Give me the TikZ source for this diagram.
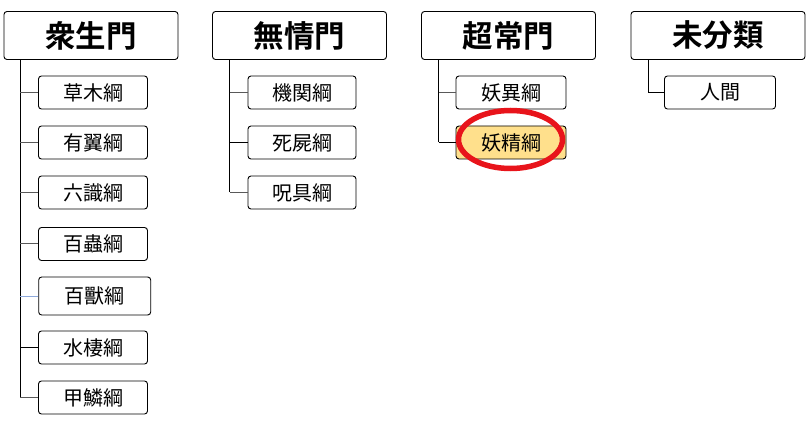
\documentclass[tikz,border=0pt]{standalone}
\usepackage{fontspec}
\usetikzlibrary{shapes.geometric}
\newfontfamily\cjk{Noto Sans CJK JP}
\newfontfamily\cjkbold{Noto Sans CJK JP Bold}
\definecolor{linegrey}{HTML}{595959}
\definecolor{lineblue}{HTML}{8EA9DB}
\definecolor{fairyfill}{HTML}{FFE08C}
\definecolor{circlered}{HTML}{E8141B}
\begin{document}
\begin{tikzpicture}[x=1pt,y=-1pt,
  topbox/.style={draw=black, line width=0.9pt, rounded corners=3pt, fill=white,
    minimum width=174pt, minimum height=48pt, inner sep=0pt,
    font=\cjkbold\fontsize{30.5}{33}\selectfont},
  childbox/.style={draw=black, line width=0.9pt, rounded corners=3pt, fill=white,
    minimum width=109pt, minimum height=33pt, inner sep=0pt,
    font=\cjk\fontsize{20}{22}\selectfont},
  conn/.style={line width=0.9pt, draw=black},
  connG/.style={line width=1pt, draw=linegrey},
  connB/.style={line width=0.9pt, draw=lineblue}]
\useasboundingbox (0,0) rectangle (806,422);

% column 1
\node[topbox] (p1) at (91,35.5) {衆生門};
\node[childbox] (a1) at (93,92.5) {草木綱};
\node[childbox] (a2) at (93,142.5) {有翼綱};
\node[childbox] (a3) at (93,192.5) {六識綱};
\node[childbox] (a4) at (93,244) {百蟲綱};
\node[childbox, minimum width=112pt, minimum height=38pt] (a5) at (94.7,296) {百獸綱};
\node[childbox] (a6) at (93,347.5) {水棲綱};
\node[childbox] (a7) at (93,397.5) {甲鱗綱};
\coordinate (t1) at ([xshift=16.7pt]p1.south west);
\draw[conn] (t1) -- (t1 |- a7.west);
\draw[connG] (t1 |- a1.west) -- (a1.west);
\draw[connG] (t1 |- a2.west) -- (a2.west);
\draw[connG] (t1 |- a3.west) -- (a3.west);
\draw[connG] (t1 |- a4.west) -- (a4.west);
\draw[connB] (t1 |- a5.west) -- (a5.west);
\draw[conn] (t1 |- a6.west) -- (a6.west);
\draw[connG] (t1 |- a7.west) -- (a7.west);

% column 2
\node[topbox] (p2) at (299.5,35.5) {無情門};
\node[childbox, minimum width=108pt] (b1) at (302,92.5) {機関綱};
\node[childbox, minimum width=108pt] (b2) at (302,142.5) {死屍綱};
\node[childbox, minimum width=108pt] (b3) at (302,192.5) {呪具綱};
\coordinate (t2) at ([xshift=17.5pt]p2.south west);
\draw[conn] (t2) -- (t2 |- b3.west);
\draw[connG] (t2 |- b1.west) -- (b1.west);
\draw[conn] (t2 |- b2.west) -- (b2.west);
\draw[connG] (t2 |- b3.west) -- (b3.west);

% column 3
\node[topbox] (p3) at (508.5,35.5) {超常門};
\node[childbox, minimum width=110pt] (c1) at (511,92.5) {妖異綱};
\node[childbox, minimum width=110pt, fill=fairyfill] (c2) at (511,142.5) {妖精綱};
\coordinate (t3) at ([xshift=17.5pt]p3.south west);
\draw[conn] (t3) -- (t3 |- c2.west);
\draw[connG] (t3 |- c1.west) -- (c1.west);
\draw[conn] (t3 |- c2.west) -- (c2.west);
\node[draw=circlered, line width=5.5pt, ellipse, minimum width=104pt, minimum height=58pt, inner sep=0pt] (ring) at (510.5,139.5) {};

% column 4
\node[topbox] (p4) at (718,35.5) {未分類};
\node[childbox, minimum width=111pt] (d1) at (720,92.5) {人間};
\coordinate (t4) at ([xshift=18pt]p4.south west);
\draw[conn] (t4) |- (d1.west);
\end{tikzpicture}
\end{document}
